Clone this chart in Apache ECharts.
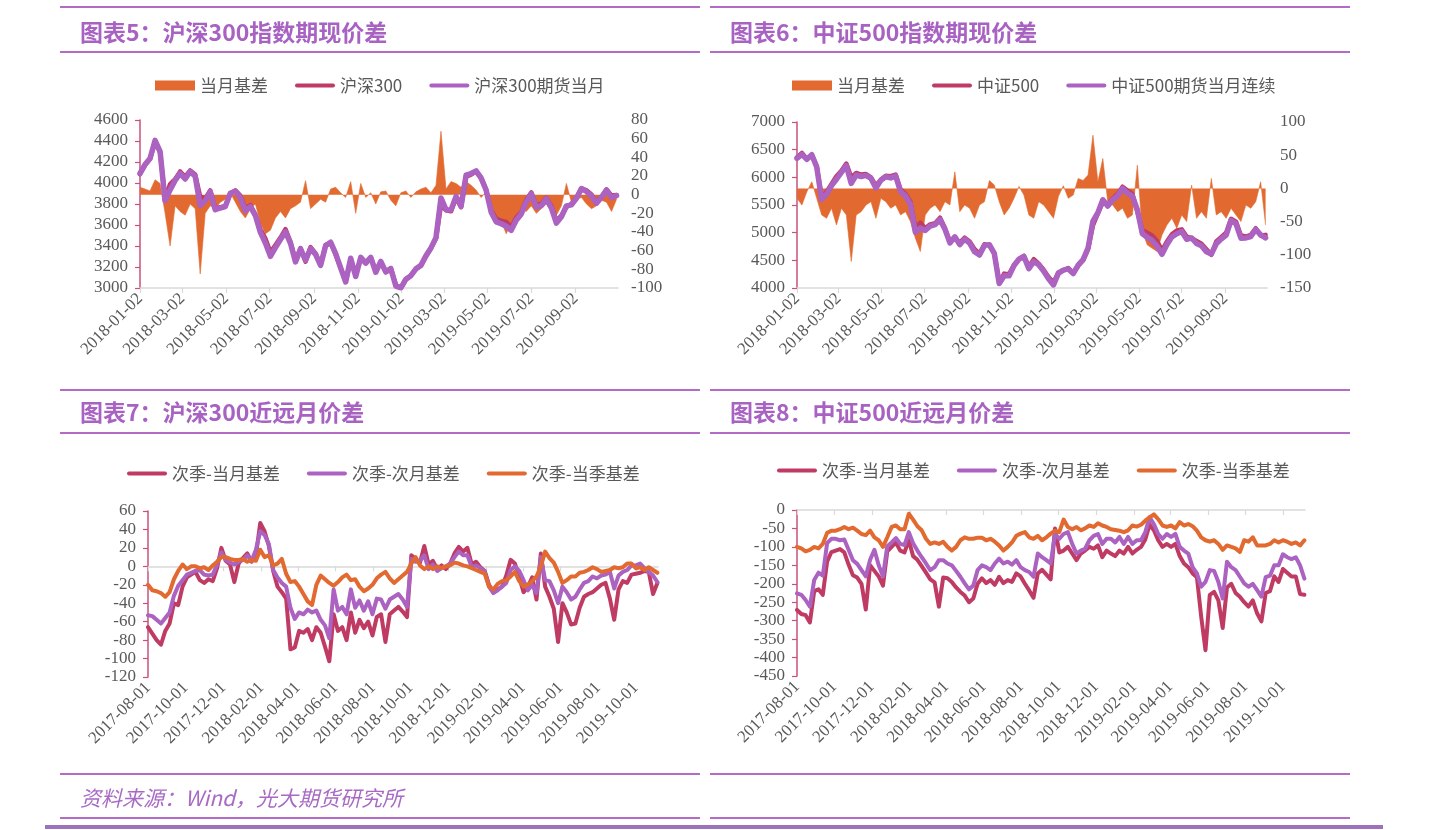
<!DOCTYPE html>
<html><head><meta charset="utf-8">
<script src="https://cdn.jsdelivr.net/npm/echarts@6/dist/echarts.min.js"></script>
<style>html,body{margin:0;padding:0;background:#fff;}#c{width:1440px;height:830px;}</style>
</head><body><div id="c"></div>
<script>
// ---------- DATA ----------
const start5 = '2018-01-02';           // weekly samples, charts 5 & 6
const end5 = '2019-10-31';
const start7 = '2017-08-01';           // weekly samples, charts 7 & 8
const end7 = '2019-11-06';
const ticks5 = ['2018-01-02','2018-03-02','2018-05-02','2018-07-02','2018-09-02','2018-11-02','2019-01-02','2019-03-02','2019-05-02','2019-07-02','2019-09-02'];
const ticks7 = ['2017-08-01','2017-10-01','2017-12-01','2018-02-01','2018-04-01','2018-06-01','2018-08-01','2018-10-01','2018-12-01','2019-02-01','2019-04-01','2019-06-01','2019-08-01','2019-10-01'];

const hs300Index = [4084,4170,4230,4390,4290,3850,3990,4036,4110,4060,
 4120,4080,3870,3850,3930,3760,3770,3780,3900,3930,
 3880,3760,3790,3700,3560,3470,3340,3410,3480,3560,
 3440,3260,3380,3250,3390,3330,3220,3410,3430,3320,
 3190,3060,3270,3130,3280,3240,3290,3160,3250,3150,
 3190,3030,3000,3080,3120,3180,3210,3300,3380,3470,
 3790,3740,3730,3860,3770,4060,4080,4110,4050,3930,
 3740,3660,3640,3630,3580,3670,3720,3840,3910,3790,
 3800,3860,3780,3640,3690,3770,3800,3860,3950,3930,
 3890,3820,3870,3940,3880,3885];
const hs300Fut = [4092,4176,4234,4406,4302,3830,3935,4024,4092,4038,
 4110,4065,3785,3830,3918,3745,3762,3775,3902,3922,
 3862,3735,3775,3690,3530,3428,3302,3385,3462,3535,
 3425,3248,3372,3265,3375,3320,3215,3402,3436,3328,
 3192,3057,3284,3110,3292,3237,3292,3150,3253,3154,
 3184,3018,3002,3084,3117,3183,3216,3308,3382,3480,
 3858,3746,3744,3872,3778,4074,4090,4115,4047,3933,
 3722,3630,3612,3588,3550,3645,3705,3822,3898,3770,
 3785,3850,3762,3618,3678,3782,3792,3855,3947,3920,
 3875,3808,3864,3932,3862,3880];
const hs300Basis = [8,6,4,16,12,-20,-55,-12,-18,-22,
 -10,-15,-85,-20,-12,-15,-8,-5,2,-8,
 -18,-25,-15,-10,-30,-42,-38,-25,-18,-25,
 -15,-12,-8,15,-15,-10,-5,-8,6,8,
 2,-3,14,-20,12,-3,2,-10,3,4,
 -6,-12,2,4,-3,3,6,8,2,10,
 68,6,14,12,8,14,10,5,-3,3,
 -18,-30,-28,-42,-30,-25,-15,-18,-12,-20,
 -15,-10,-18,-22,-12,12,-8,-5,-3,-10,
 -15,-12,-6,-8,-18,-5];

const csi500Index = [6360,6440,6330,6400,6200,5640,5740,5880,6020,6120,
 6250,6000,6080,6050,6060,6000,5850,5960,6030,6020,
 6050,5780,5700,5560,5080,5180,5080,5150,5170,5270,
 5080,4840,4900,4820,4910,4840,4700,4620,4790,4770,
 4620,4100,4260,4250,4420,4520,4580,4390,4520,4440,
 4330,4200,4100,4280,4320,4360,4270,4400,4500,4700,
 5130,5350,5550,5500,5620,5700,5830,5760,5700,5380,
 5050,5000,4950,4850,4680,4840,4970,5040,5060,4930,
 4900,4850,4800,4700,4600,4840,4920,5000,5250,5200,
 4950,4930,4960,5080,4950,4960];
const csi500Fut = [6345,6415,6325,6410,6185,5600,5695,5850,5965,6090,
 6210,5890,6040,6015,6035,5980,5805,5945,6010,5990,
 6025,5740,5665,5510,5005,5085,5040,5120,5145,5235,
 5060,4815,4925,4785,4885,4810,4655,4595,4770,4782,
 4625,4080,4220,4220,4405,4523,4570,4350,4475,4420,
 4305,4165,4055,4268,4324,4345,4260,4415,4512,4720,
 5210,5360,5595,5480,5595,5665,5800,5715,5660,5415,
 4985,4915,4860,4755,4610,4785,4925,4980,5020,4880,
 4905,4805,4765,4655,4615,4800,4885,4955,5220,5160,
 4900,4905,4930,5060,4960,4905];
const csi500Basis = [-15,-25,-5,10,-15,-40,-45,-30,-55,-30,
 -40,-110,-40,-35,-25,-20,-45,-15,-20,-30,
 -25,-40,-35,-50,-75,-95,-40,-30,-25,-35,
 -20,-25,25,-35,-25,-30,-45,-25,-20,12,
 5,-20,-40,-30,-15,3,-10,-40,-45,-20,
 -25,-35,-45,-12,4,-15,-10,15,12,20,
 80,10,45,-20,-25,-35,-30,-45,-40,35,
 -65,-85,-90,-95,-70,-55,-45,-60,-40,-50,
 5,-45,-35,-45,15,-40,-35,-45,-30,-40,
 -50,-25,-30,-20,10,-55];

// 沪深300 近远月价差
const hs300NqCm = [-66,-73,-80,-85,-70,-62,-40,-42,-22,-12,
 -9,-6,-15,-18,-14,-16,-2,20,6,2,
 -17,3,9,14,5,12,47,38,22,-5,
 -22,-28,-35,-90,-88,-70,-72,-68,-80,-66,
 -72,-87,-103,-52,-70,-66,-80,-50,-72,-58,
 -67,-60,-75,-55,-52,-82,-52,-48,-44,-49,
 -55,12,8,4,22,2,6,-3,1,-3,
 3,14,21,16,20,2,5,-1,-5,-20,
 -28,-25,-22,-10,7,3,-12,-28,-22,-12,
 -36,14,-22,-33,-46,-82,-40,-50,-63,-62,
 -45,-33,-30,-28,-24,-20,-18,-35,-58,-25,
 -16,-18,-9,-8,-7,-5,-6,-30,-18];
const hs300NqNm = [-53,-54,-58,-62,-56,-50,-32,-21,-15,-9,
 -7,-5,-4,-9,-10,-9,2,15,7,4,
 2,5,7,12,6,18,38,34,24,-4,
 -12,-18,-22,-45,-57,-50,-52,-47,-50,-48,
 -58,-64,-78,-25,-48,-44,-52,-25,-45,-37,
 -48,-38,-52,-35,-36,-46,-36,-33,-30,-36,
 -44,8,5,6,12,-3,2,-5,-2,0,
 3,10,16,12,12,-1,1,-2,-6,-22,
 -29,-26,-22,-18,-4,0,-5,-15,-26,-20,
 -29,10,-15,-16,-26,-40,-22,-28,-36,-33,
 -25,-18,-16,-11,-13,-10,-9,-6,-24,-10,
 -6,-4,1,1,3,-2,-6,-10,-17];
const hs300NqCq = [-20,-26,-27,-29,-33,-28,-14,-5,2,-3,
 0,0,-2,-1,-4,1,5,10,10,8,
 7,7,8,5,7,6,18,10,12,1,
 3,8,-8,-17,-16,-22,-30,-38,-42,-20,
 -10,-14,-18,-21,-17,-12,-9,-15,-14,-22,
 -27,-24,-20,-13,-9,-6,-13,-18,-14,-10,
 -6,3,10,1,-3,0,-3,0,-2,0,
 1,4,3,1,0,-2,-4,-6,-8,-22,
 -25,-19,-16,-15,-11,-6,-16,-22,-20,-16,
 -11,0,16,9,4,-6,-18,-15,-11,-11,
 -7,-6,-4,-1,-3,-6,-5,-4,-1,-2,
 -1,3,3,-2,-1,-4,-1,-4,-7];

// 中证500 近远月价差
const csi500NqCm = [-271,-282,-285,-305,-220,-215,-230,-140,-114,-110,
 -106,-115,-148,-177,-183,-200,-270,-150,-165,-180,
 -205,-112,-100,-88,-110,-115,-82,-125,-135,-152,
 -170,-188,-196,-262,-183,-185,-195,-210,-222,-232,
 -250,-240,-200,-185,-198,-190,-203,-181,-198,-190,
 -195,-172,-180,-200,-218,-238,-172,-162,-175,-188,
 -50,-115,-110,-100,-118,-136,-118,-110,-100,-105,
 -96,-128,-110,-118,-125,-110,-118,-100,-118,-108,
 -100,-80,-40,-55,-82,-100,-92,-100,-92,-125,
 -145,-155,-172,-182,-289,-380,-230,-222,-245,-320,
 -210,-200,-225,-235,-250,-262,-245,-280,-302,-225,
 -220,-180,-195,-160,-170,-180,-180,-228,-230];
const csi500NqNm = [-226,-230,-244,-262,-190,-170,-178,-90,-78,-78,
 -82,-80,-108,-136,-146,-163,-180,-135,-108,-150,
 -180,-98,-88,-76,-92,-95,-60,-90,-110,-128,
 -145,-163,-155,-136,-136,-145,-150,-165,-181,-199,
 -215,-205,-163,-150,-155,-163,-145,-132,-145,-140,
 -148,-136,-155,-163,-168,-181,-118,-128,-136,-145,
 -65,-78,-65,-60,-92,-118,-110,-105,-82,-70,
 -65,-92,-78,-78,-88,-73,-92,-73,-92,-82,
 -82,-60,-20,-38,-65,-78,-65,-73,-65,-100,
 -110,-118,-155,-172,-208,-195,-163,-165,-195,-240,
 -140,-155,-163,-181,-199,-208,-200,-217,-235,-182,
 -178,-150,-150,-120,-128,-133,-128,-150,-186];
const csi500NqCq = [-100,-104,-112,-108,-100,-104,-92,-62,-56,-56,
 -52,-46,-52,-48,-56,-65,-68,-56,-74,-82,
 -100,-74,-46,-42,-52,-52,-10,-26,-44,-55,
 -78,-92,-88,-92,-86,-100,-110,-100,-82,-74,
 -78,-78,-75,-75,-82,-78,-86,-96,-110,-100,
 -88,-70,-64,-60,-74,-78,-70,-82,-74,-64,
 -56,-60,-26,-46,-52,-46,-55,-50,-42,-46,
 -36,-42,-46,-52,-54,-56,-60,-55,-42,-45,
 -40,-29,-20,-12,-25,-42,-46,-42,-50,-33,
 -42,-38,-44,-56,-74,-82,-86,-82,-92,-108,
 -96,-100,-104,-114,-82,-86,-74,-96,-96,-96,
 -92,-82,-88,-82,-86,-92,-88,-96,-82];

// ---------- HELPERS ----------
function parseDate(s){const p=s.split('-').map(Number);return new Date(p[0],p[1]-1,p[2]).getTime();}
function weeklyDates(startStr,n){const t0=new Date(parseDate(startStr));const out=[];for(let i=0;i<n;i++){const d=new Date(t0.getFullYear(),t0.getMonth(),t0.getDate()+7*i);out.push(d.getTime());}return out;}
function pad(n){return String(n).padStart(2,'0');}
function fmtDate(v){const d=new Date(v);return d.getFullYear()+'-'+pad(d.getMonth()+1)+'-'+pad(d.getDate());}
function pairs(dates,vals){return vals.map((v,i)=>[dates[i],v]);}

const dates5 = weeklyDates(start5, hs300Index.length);
const dates7 = weeklyDates(start7, hs300NqCm.length);
const tickTs5 = ticks5.map(parseDate);
const tickTs7 = ticks7.map(parseDate);

const C_RED='#bf3b64', C_PUR='#ab62c1', C_ORG='#e2692f';
const AX_PINK='#c8507c', AX_GRAY='#d9d9d9', TXT='#595959';
const SERIF='"Liberation Serif","Times New Roman",serif';
const CJK='"Noto Sans CJK SC",sans-serif';
const LINE_ICON='path://M2,0 L38,0 A2,2 0 0 1 38,4 L2,4 A2,2 0 0 1 2,0 Z';

function labelX(grid, startStr, endStr, ticks, showLine){
  return {type:'value', gridIndex:grid, position:'bottom', min:parseDate(startStr), max:parseDate(endStr), scale:true,
    axisLine:{show:showLine, onZero:false, lineStyle:{color:AX_GRAY,width:1.5}},
    axisTick:{show:showLine, length:5, customValues:ticks, lineStyle:{color:AX_GRAY,width:1.2}},
    axisLabel:{customValues:ticks, rotate:45, formatter:fmtDate, fontFamily:SERIF, fontSize:17, color:TXT, margin:8, hideOverlap:false},
    splitLine:{show:false}};
}
function zeroX(grid, startStr, endStr, ticks){
  return {type:'value', gridIndex:grid, position:'bottom', min:parseDate(startStr), max:parseDate(endStr), scale:true,
    axisLine:{show:true, onZero:true, lineStyle:{color:AX_GRAY,width:1.5}},
    axisTick:{show:true, length:5, customValues:ticks, lineStyle:{color:AX_GRAY,width:1.2}},
    axisLabel:{show:false}, splitLine:{show:false}};
}
const plain = v => String(v);
function leftY(grid,min,max,interval){
  return {type:'value', gridIndex:grid, position:'left', min, max, interval,
    axisLine:{show:true, lineStyle:{color:AX_PINK,width:1.5}},
    axisTick:{show:true, length:5, lineStyle:{color:AX_PINK,width:1.2}},
    axisLabel:{fontFamily:SERIF, fontSize:17, color:TXT, margin:12, formatter:plain},
    splitLine:{show:false}};
}
function rightY(grid,min,max,interval){
  return {type:'value', gridIndex:grid, position:'right', min, max, interval,
    axisLine:{show:false}, axisTick:{show:false},
    axisLabel:{fontFamily:SERIF, fontSize:17, color:TXT, margin:13, formatter:plain},
    splitLine:{show:false}};
}
function lineS(name,x,y,data,color,width,z){
  return {type:'line', name, xAxisIndex:x, yAxisIndex:y, data, showSymbol:false, symbol:'none',
    lineStyle:{color,width,join:'round',cap:'round'}, itemStyle:{color}, z:z||2, animation:false};
}
function areaS(name,x,y,data){
  return {type:'line', name, xAxisIndex:x, yAxisIndex:y, data, showSymbol:false, symbol:'none',
    lineStyle:{color:C_ORG,width:0.6}, itemStyle:{color:C_ORG}, areaStyle:{color:C_ORG,opacity:1}, z:1, animation:false};
}
function legend(left,top,items){
  return {left, top, itemWidth:40, itemHeight:10, itemGap:27, orient:'horizontal', selectedMode:false,
    itemStyle:{borderWidth:0},
    textStyle:{fontFamily:CJK, fontSize:17, color:TXT},
    data:items.map(it=>({name:it[0], icon:it[1]}))};
}

// ---------- GRAPHICS (titles, rules, source) ----------
const graphics=[];
function hline(y,x1,x2,w,c){graphics.push({type:'line',silent:true,shape:{x1,y1:y,x2,y2:y},style:{stroke:c||'#b46bc6',lineWidth:w||2}});}
[7,52,390,433,774,818].forEach(y=>{hline(y,60,700);hline(y,710,1350);});
hline(827,45,1383,4,'#9d72ba');
function title(x,y,s){graphics.push({type:'text',silent:true,x,y,style:{text:s,fill:'#a862c2',font:'bold 23px "Noto Sans CJK SC"',verticalAlign:'middle'}});}
title(80,32,'图表5：沪深300指数期现价差');
title(730,32,'图表6：中证500指数期现价差');
title(80,412,'图表7：沪深300近远月价差');
title(730,412,'图表8：中证500近远月价差');
graphics.push({type:'text',silent:true,x:80,y:798,style:{text:'资料来源：Wind，光大期货研究所',fill:'#a86ac4',font:'italic 21px "Noto Sans CJK SC"',verticalAlign:'middle'}});

// ---------- OPTION ----------
const option = {
  animation:false,
  backgroundColor:'#fff',
  graphic:graphics,
  grid:[
    {left:140, top:120, width:478, height:168},
    {left:797, top:122, width:470, height:166},
    {left:148, top:511, width:510, height:166},
    {left:797, top:510, width:508, height:166}
  ],
  legend:[
    legend(150,72,[['当月基差','rect'],['沪深300',LINE_ICON],['沪深300期货当月',LINE_ICON]]),
    legend(787,72,[['当月基差','rect'],['中证500',LINE_ICON],['中证500期货当月连续',LINE_ICON]]),
    legend(122,460,[['次季-当月基差',LINE_ICON],['次季-次月基差',LINE_ICON],['次季-当季基差',LINE_ICON]]),
    legend(772,457,[['次季-当月基差',LINE_ICON],['次季-次月基差',LINE_ICON],['次季-当季基差',LINE_ICON]])
  ],
  xAxis:[
    labelX(0,start5,end5,tickTs5,true),
    labelX(1,start5,end5,tickTs5,true),
    labelX(2,start7,end7,tickTs7,false),
    zeroX(2,start7,end7,tickTs7),
    labelX(3,start7,end7,tickTs7,false),
    zeroX(3,start7,end7,tickTs7)
  ],
  yAxis:[
    leftY(0,3000,4600,200), rightY(0,-100,80,20),
    leftY(1,4000,7000,500), rightY(1,-150,100,50),
    leftY(2,-120,60,20),
    leftY(3,-450,0,50)
  ],
  series:[
    areaS('当月基差',0,1,pairs(dates5,hs300Basis)),
    lineS('沪深300',0,0,pairs(dates5,hs300Index),C_RED,4.5,3),
    lineS('沪深300期货当月',0,0,pairs(dates5,hs300Fut),C_PUR,5.5,4),
    areaS('当月基差',1,3,pairs(dates5,csi500Basis)),
    lineS('中证500',1,2,pairs(dates5,csi500Index),C_RED,4.5,3),
    lineS('中证500期货当月连续',1,2,pairs(dates5,csi500Fut),C_PUR,5.5,4),
    lineS('次季-当月基差',2,4,pairs(dates7,hs300NqCm),C_RED,4,2),
    lineS('次季-次月基差',2,4,pairs(dates7,hs300NqNm),C_PUR,4,3),
    lineS('次季-当季基差',2,4,pairs(dates7,hs300NqCq),C_ORG,4,4),
    lineS('次季-当月基差',4,5,pairs(dates7,csi500NqCm),C_RED,4,2),
    lineS('次季-次月基差',4,5,pairs(dates7,csi500NqNm),C_PUR,4,3),
    lineS('次季-当季基差',4,5,pairs(dates7,csi500NqCq),C_ORG,4,4)
  ]
};
const chart = echarts.init(document.getElementById('c'), null, {renderer:'canvas'});
chart.setOption(option);
</script>
</body></html>
